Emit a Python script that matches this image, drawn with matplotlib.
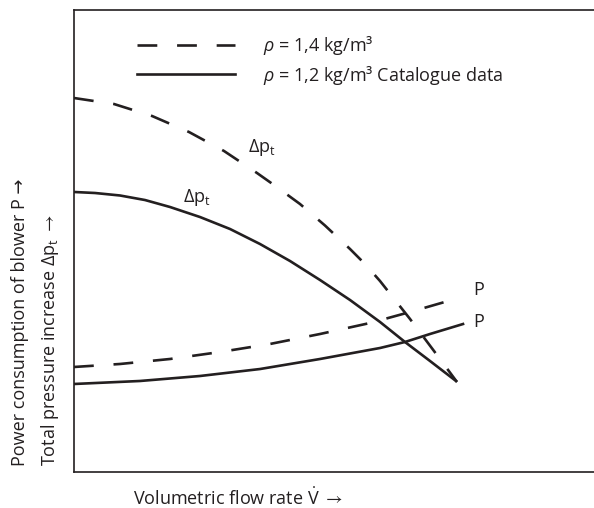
import matplotlib
matplotlib.use("Agg")
import matplotlib.pyplot as plt
from matplotlib.lines import Line2D

plt.rcParams['font.family'] = ['Open Sans', 'DejaVu Sans']
plt.rcParams['mathtext.fontset'] = 'custom'
plt.rcParams['mathtext.rm'] = 'Open Sans'
plt.rcParams['mathtext.it'] = 'Open Sans:italic'
plt.rcParams['mathtext.bf'] = 'Open Sans:bold'
plt.rcParams['mathtext.fallback'] = 'stixsans'

# ---- data (arbitrary normalized units) ----
# pressure increase, rho = 1.4 (dashed)
dp14_x = [0.000, 0.769, 1.500, 2.212, 2.885, 3.519, 3.846, 4.346, 4.827, 5.308,
          5.596, 5.885, 6.173, 6.462, 6.750, 7.038, 7.365]
dp14_y = [8.095, 7.965, 7.706, 7.359, 6.948, 6.472, 6.212, 5.801, 5.335, 4.827,
          4.502, 4.134, 3.723, 3.312, 2.879, 2.446, 1.948]
# pressure increase, rho = 1.2 (solid)
dp12_x = [0.000, 0.404, 0.885, 1.365, 1.846, 2.423, 3.000, 3.577, 4.154, 4.731,
          5.308, 5.885, 6.365, 6.846, 7.346]
dp12_y = [6.061, 6.039, 5.985, 5.887, 5.736, 5.519, 5.260, 4.935, 4.567, 4.156,
          3.723, 3.247, 2.814, 2.403, 1.970]
# power, rho = 1.4 (dashed)
p14_x = [0.000, 0.885, 1.846, 2.808, 3.769, 4.731, 5.692, 6.462, 7.462]
p14_y = [2.273, 2.338, 2.446, 2.597, 2.771, 2.987, 3.225, 3.463, 3.788]
# power, rho = 1.2 (solid)
p12_x = [0.000, 1.269, 2.423, 3.577, 4.731, 5.885, 6.365, 6.846, 7.481]
p12_y = [1.905, 1.970, 2.078, 2.229, 2.446, 2.684, 2.814, 2.987, 3.203]

legend_labels = [r"$\rho$ = 1,4 kg/m³", r"$\rho$ = 1,2 kg/m³ Catalogue data"]
curve_labels = [r"$\Delta$p$_\mathrm{t}$", r"$\Delta$p$_\mathrm{t}$", "P", "P"]
xlabel = r"Volumetric flow rate $\dot{\mathrm{V}}\;\rightarrow$"
ylabel1 = "Power consumption of blower P →"
ylabel2 = r"Total pressure increase $\Delta$p$_\mathrm{t}\;\rightarrow$"

W, H = 594, 508
fig = plt.figure(figsize=(W / 100, H / 100), dpi=100)
ax = fig.add_axes([74 / W, 36 / H, 520 / W, 462 / H])

col = '#231f20'
lw = 1.9
dash = (7.5, 7.5)

ax.plot(dp14_x, dp14_y, color=col, lw=lw, dashes=dash, dash_capstyle='butt',
        dash_joinstyle='round')
ax.plot(dp12_x, dp12_y, color=col, lw=lw, solid_joinstyle='round')
ax.plot(p14_x, p14_y, color=col, lw=lw, dashes=dash, dash_capstyle='butt',
        dash_joinstyle='round')
ax.plot(p12_x, p12_y, color=col, lw=lw, solid_joinstyle='round')

fs = 13
ax.text(3.35, 6.93, curve_labels[0], fontsize=fs, color=col, ha='left', va='baseline')
ax.text(2.10, 5.84, curve_labels[1], fontsize=fs, color=col, ha='left', va='baseline')
ax.text(7.67, 3.83, curve_labels[2], fontsize=fs, color=col, ha='left', va='baseline')
ax.text(7.67, 3.14, curve_labels[3], fontsize=fs, color=col, ha='left', va='baseline')

ax.set_xlim(0, 10)
ax.set_ylim(0, 10)
ax.set_xticks([])
ax.set_yticks([])
ax.spines['right'].set_visible(False)
for s in ['left', 'top', 'bottom']:
    ax.spines[s].set_linewidth(1.2)
    ax.spines[s].set_color(col)

handles = [Line2D([], [], color=col, lw=lw, dashes=dash, dash_capstyle='butt'),
           Line2D([], [], color=col, lw=lw)]
leg = ax.legend(handles, legend_labels, loc='upper left',
                bbox_to_anchor=((140 - 74) / 520 - 0.006, (472 - 34) / 462),
                frameon=False, fontsize=fs, handlelength=5.45, handletextpad=1.55,
                labelspacing=0.37, borderaxespad=0, borderpad=0)
for t in leg.get_texts():
    t.set_color(col)

fig.text(133 / W, 3 / H, xlabel, fontsize=fs, color=col, ha='left', va='baseline')
fig.text(20 / W, 42 / H, ylabel1, fontsize=fs, color=col,
         rotation=90, ha='center', va='bottom')
fig.text(50 / W, 42 / H, ylabel2, fontsize=fs, color=col,
         rotation=90, ha='center', va='bottom')

fig.savefig("out.png", dpi=100)
